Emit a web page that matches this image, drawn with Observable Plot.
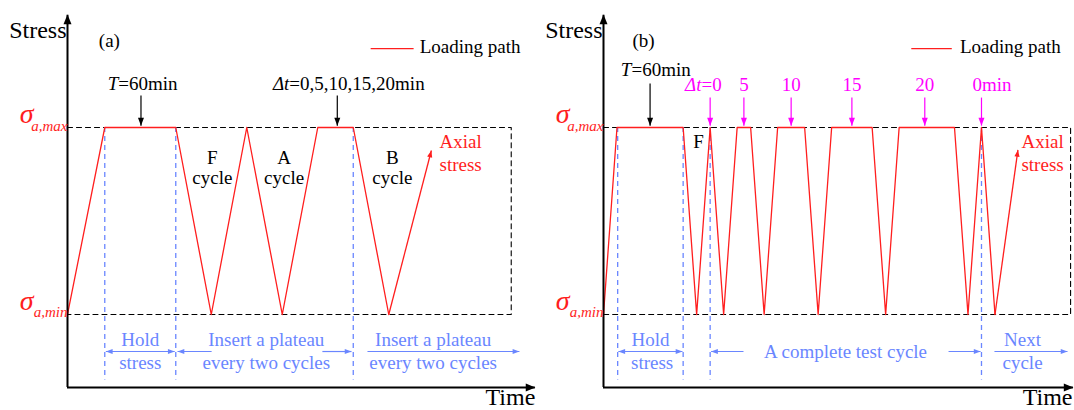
<!DOCTYPE html>
<html><head><meta charset="utf-8">
<script src="https://cdn.jsdelivr.net/npm/d3@7"></script>
<script src="https://cdn.jsdelivr.net/npm/@observablehq/plot@0.6"></script>
<style>
body{margin:0;background:#fff}
#wrap{display:flex;width:1074px;height:410px;overflow:hidden}
svg{overflow:visible}
svg text, svg g[aria-label="text"]{font-family:"Liberation Serif","Times New Roman","DejaVu Serif",serif !important}
</style>
</head><body><div id="wrap"></div>
<script>
// ---------- Panel (a) data (time in ramp units, stress: 0 = σa,min, 1 = σa,max) ----------
const aTime   = [0, 1.05, 3.05, 4.05, 5.05, 6.05, 7.05, 8.05, 9.05];
const aStress = [0, 1, 1, 0, 1, 0, 1, 1, 0];
const aAxialTip = [10.25, 0.877];
const aDashTimes = [1.05, 3.05, 8.05];
const aBoxEnd = 12.5;
const aLabels = [
  {text:"Stress", x:0, y:1.481, anchor:"end", size:24, dx:-1},
  {text:"Time", x:13.18, y:-0.482, anchor:"end", size:24},
  {text:"(a)", x:1.18, y:1.428},
  {text:"Loading path", x:9.92, y:1.396, anchor:"start"},
  {text:"T", x:1.43, y:1.198, anchor:"end", italic:true},
  {text:"=60min", x:1.43, y:1.198, anchor:"start"},
  {text:"Δt", x:6.25, y:1.198, anchor:"end", italic:true},
  {text:"=0,5,10,15,20min", x:6.25, y:1.198, anchor:"start"},
  {text:"F", x:4.08, y:0.807}, {text:"cycle", x:4.08, y:0.70},
  {text:"A", x:6.1, y:0.807},  {text:"cycle", x:6.1, y:0.70},
  {text:"B", x:9.15, y:0.807}, {text:"cycle", x:9.15, y:0.70},
  {text:"Axial", x:10.48, y:0.893, anchor:"start", color:"red"},
  {text:"stress", x:10.48, y:0.77, anchor:"start", color:"red"},
  {text:"Hold", x:2.05, y:-0.166, color:"blue"},
  {text:"stress", x:2.05, y:-0.289, color:"blue"},
  {text:"Insert a plateau", x:5.6, y:-0.166, color:"blue"},
  {text:"every two cycles", x:5.6, y:-0.289, color:"blue"},
  {text:"Insert a plateau", x:10.3, y:-0.166, color:"blue"},
  {text:"every two cycles", x:10.3, y:-0.289, color:"blue"}
];
const aArrows = [
  {x1:2.07, y1:1.171, x2:2.07, y2:1.01, color:"black"},
  {x1:7.6, y1:1.171, x2:7.6, y2:1.01, color:"black"},
  {x1:1.08, y1:-0.198, x2:3.02, y2:-0.198, color:"blue", both:true},
  {x1:4.06, y1:-0.198, x2:3.1, y2:-0.198, color:"blue"},
  {x1:7.18, y1:-0.198, x2:8.0, y2:-0.198, color:"blue"},
  {x1:8.45, y1:-0.198, x2:12.73, y2:-0.198, color:"blue"}
];

// ---------- Panel (b) data ----------
const bTime   = [0, 1, 5.9, 6.9, 7.9, 8.9, 9.9, 10.9, 11.9, 12.9, 14.9, 15.9, 16.9, 19.9, 20.9, 21.9, 26, 27, 28, 29];
const bStress = [0, 1, 1,   0,   1,   0,   1,   1,    0,    1,    1,    0,    1,    1,    0,    1,    1,  0,  1,  0];
const bAxialTip = [30.7, 0.88];
const bDashTimes = [1.05, 5.9, 7.9, 28];
const bBoxEnd = 34.6;
const bDeltaLabels = ["5", "10", "15", "20"];
const bDeltaX = [10.4, 13.9, 18.4, 23.8];
const bLabels = [
  {text:"Stress", x:0, y:1.481, anchor:"end", size:24, dx:-1},
  {text:"Time", x:34.74, y:-0.482, anchor:"end", size:24},
  {text:"(b)", x:2.96, y:1.428},
  {text:"Loading path", x:26.4, y:1.396, anchor:"start"},
  {text:"T", x:2.07, y:1.273, anchor:"end", italic:true},
  {text:"=60min", x:2.07, y:1.273, anchor:"start"},
  {text:"Δt", x:7.26, y:1.193, anchor:"end", italic:true, color:"magenta"},
  {text:"=0", x:7.26, y:1.193, anchor:"start", color:"magenta"},
  ...bDeltaLabels.map((t, i) => ({text:t, x:bDeltaX[i], y:1.193, color:"magenta"})),
  {text:"0min", x:27.33, y:1.193, anchor:"start", color:"magenta"},
  {text:"F", x:7.04, y:0.888},
  {text:"Axial", x:30.96, y:0.893, anchor:"start", color:"red"},
  {text:"stress", x:30.96, y:0.77, anchor:"start", color:"red"},
  {text:"Hold", x:3.48, y:-0.166, color:"blue"},
  {text:"stress", x:3.6, y:-0.289, color:"blue"},
  {text:"A complete test cycle", x:17.93, y:-0.23, color:"blue"},
  {text:"Next", x:31.04, y:-0.166, color:"blue"},
  {text:"cycle", x:31.04, y:-0.289, color:"blue"}
];
const bArrows = [
  {x1:3.45, y1:1.235, x2:3.45, y2:1.01, color:"black"},
  ...[7.9, 10.4, 13.9, 18.4, 23.8, 28].map(x => ({x1:x, y1:1.16, x2:x, y2:1.01, color:"magenta"})),
  {x1:1.1, y1:-0.198, x2:5.85, y2:-0.198, color:"blue", both:true},
  {x1:10.37, y1:-0.198, x2:7.97, y2:-0.198, color:"blue"},
  {x1:25.56, y1:-0.198, x2:27.93, y2:-0.198, color:"blue"},
  {x1:28.96, y1:-0.198, x2:34.37, y2:-0.198, color:"blue"}
];

// ---------- styling ----------
const SERIF = '"Liberation Serif", "Times New Roman", "DejaVu Serif", serif';
const COLORS = {red:"#ff1e1e", blue:"#6a86ff", magenta:"#ff00ff", black:"#000"};
const Y_DOMAIN = [-0.3904, 1.6043];
const H = 410, MT = 14, MB = 23;

function head(angleDeg, k = 2.4) {
  const a = angleDeg * Math.PI / 180, c = Math.cos(a), s = Math.sin(a);
  return {draw(ctx, size) {
    const r = Math.sqrt(size / Math.PI), L = k * r, W = r;
    const pts = [[0, 0], [-L, -W], [-L, W]].map(([x, y]) => [x * c - y * s, x * s + y * c]);
    ctx.moveTo(pts[0][0], pts[0][1]);
    ctx.lineTo(pts[1][0], pts[1][1]);
    ctx.lineTo(pts[2][0], pts[2][1]);
    ctx.closePath();
  }};
}

function panel(cfg) {
  const W = cfg.width, ML = cfg.marginLeft;
  const pxX = (W - ML) / cfg.xMax;
  const pxY = (H - MT - MB) / (Y_DOMAIN[1] - Y_DOMAIN[0]);
  const ang = (x1, y1, x2, y2) => Math.atan2(-(y2 - y1) * pxY, (x2 - x1) * pxX) * 180 / Math.PI;
  const yLo = Y_DOMAIN[0];
  const path = cfg.time.map((t, i) => ({t, s: cfg.stress[i]}));
  const last = path[path.length - 1];
  const tip = {t: cfg.tip[0], s: cfg.tip[1]};
  const box = [{t:0, s:1}, {t:cfg.boxEnd, s:1}, {t:cfg.boxEnd, s:0}, {t:0, s:0}];
  const marks = [];
  marks.push(Plot.line(box, {x:"t", y:"s", stroke:"#000", strokeWidth:1.1, strokeDasharray:"5,4"}));
  marks.push(Plot.ruleX(cfg.dashTimes, {x:d => d, y1:1, y2:-0.35, stroke:COLORS.blue, strokeWidth:1.3, strokeDasharray:"5,4"}));
  marks.push(Plot.line(path, {x:"t", y:"s", stroke:COLORS.red, strokeWidth:1.3}));
  marks.push(Plot.link([{a:last, b:tip}], {x1:d => d.a.t, y1:d => d.a.s, x2:d => d.b.t, y2:d => d.b.s, stroke:COLORS.red, strokeWidth:1.3}));
  marks.push(Plot.dot([tip], {x:"t", y:"s", r:2.6, symbol:head(ang(last.t, last.s, tip.t, tip.s), 2.6), fill:COLORS.red, stroke:"none"}));
  marks.push(Plot.link([cfg.legend], {x1:"x1", x2:"x2", y1:"y", y2:"y", stroke:COLORS.red, strokeWidth:1.3}));
  marks.push(Plot.ruleX([0], {y1:yLo, y2:1.6, stroke:"#000", strokeWidth:2}));
  marks.push(Plot.ruleY([yLo], {x1:0, x2:cfg.axisEnd, stroke:"#000", strokeWidth:2}));
  marks.push(Plot.dot([{t:0, s:1.604}], {x:"t", y:"s", r:4, symbol:head(-90, 2.4), fill:"#000", stroke:"none"}));
  marks.push(Plot.dot([{t:cfg.axisEnd, s:yLo}], {x:"t", y:"s", r:4, symbol:head(0, 2.4), fill:"#000", stroke:"none"}));
  for (const a of cfg.arrows) {
    const col = COLORS[a.color];
    marks.push(Plot.link([a], {x1:"x1", y1:"y1", x2:"x2", y2:"y2", stroke:col, strokeWidth:1.2}));
    const r = a.color === "blue" ? 2.6 : 3;
    marks.push(Plot.dot([a], {x:"x2", y:"y2", r, symbol:head(ang(a.x1, a.y1, a.x2, a.y2), 2.6), fill:col, stroke:"none"}));
    if (a.both) marks.push(Plot.dot([a], {x:"x1", y:"y1", r, symbol:head(ang(a.x2, a.y2, a.x1, a.y1), 2.6), fill:col, stroke:"none"}));
  }
  const sig = [
    {text:"σ", x:0, y:1, dx:-34, dy:-5, size:28},
    {text:"a,max", x:0, y:1, dx:0, dy:3, size:15},
    {text:"σ", x:0, y:0, dx:-34, dy:-4, size:28},
    {text:"a,min", x:0, y:0, dx:0, dy:3, size:15}
  ];
  for (const d of sig) {
    marks.push(Plot.text([d], {x:"x", y:"y", text:"text", textAnchor:"end", lineAnchor:"bottom", dx:d.dx, dy:d.dy, fill:COLORS.red, fontSize:d.size, fontStyle:"italic", fontFamily:SERIF}));
  }
  for (const d of cfg.labels) {
    marks.push(Plot.text([d], {x:"x", y:"y", text:"text", textAnchor:d.anchor || "middle", lineAnchor:"bottom",
      dx:d.dx || 0, dy:d.dy || 0, fill:COLORS[d.color || "black"], fontSize:d.size || 19,
      fontStyle:d.italic ? "italic" : "normal", fontFamily:SERIF}));
  }
  return Plot.plot({
    width: W, height: H,
    marginLeft: ML, marginRight: 0, marginTop: MT, marginBottom: MB,
    x: {domain: [0, cfg.xMax], axis: null},
    y: {domain: Y_DOMAIN, axis: null},
    style: {fontFamily: SERIF, background: "#fff", overflow: "visible"},
    marks
  });
}

const wrap = document.getElementById("wrap");
wrap.append(panel({
  width:537, marginLeft:67, xMax:13.24, axisEnd:13.18,
  time:aTime, stress:aStress, tip:aAxialTip, dashTimes:aDashTimes, boxEnd:aBoxEnd,
  legend:{x1:8.54, x2:9.75, y:1.422}, labels:aLabels, arrows:aArrows
}));
wrap.append(panel({
  width:537, marginLeft:66, xMax:34.89, axisEnd:34.81,
  time:bTime, stress:bStress, tip:bAxialTip, dashTimes:bDashTimes, boxEnd:bBoxEnd,
  legend:{x1:22.8, x2:25.8, y:1.422}, labels:bLabels, arrows:bArrows
}));
</script></body></html>
